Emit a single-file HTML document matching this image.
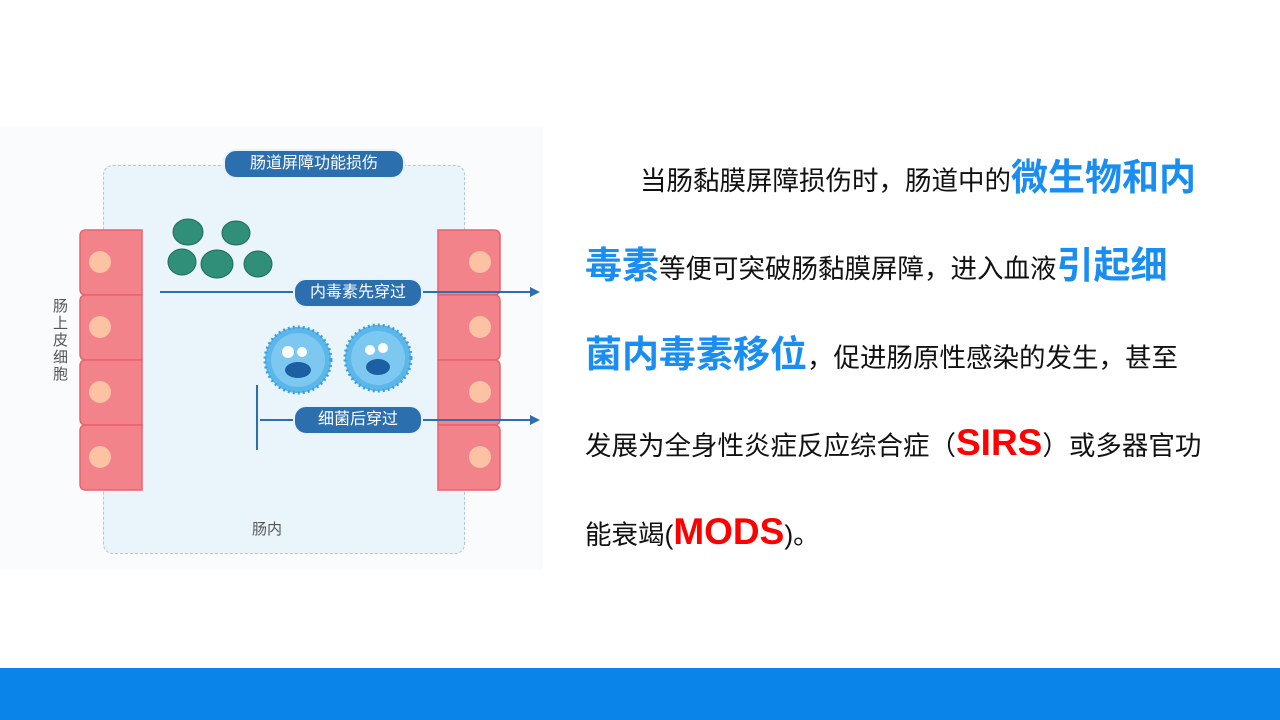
<!DOCTYPE html>
<html><head><meta charset="utf-8"><style>
body{margin:0;width:1280px;height:720px;position:relative;background:#fff;overflow:hidden;font-family:"Liberation Sans","Noto Sans CJK SC",sans-serif}
.l{position:absolute;left:585px;white-space:nowrap;font-size:26.5px;color:#111;line-height:40px}
.b{font-weight:bold;color:#1a8ef0;font-size:37px}
.r{font-weight:bold;color:#f00;font-size:37px}
.pill{position:absolute;background:#2c6fae;color:#fff;border-radius:13px;font-size:16px;text-align:center;line-height:26px;height:26px;border:2px solid #e8f2fa}
</style></head><body>
<div style="position:absolute;left:0;top:127px;width:543px;height:443px;background:#f9fbfc"></div>
<div style="position:absolute;left:103px;top:165px;width:360px;height:387px;border:1.5px dashed #b8c6d2;border-radius:10px;background:#eaf4fb"></div>
<svg style="position:absolute;left:0;top:0" width="560" height="600">
<defs><g id="cell"><path d="M0 6 Q0 0 6 0 H62 V65 H6 Q0 65 0 59 Z" fill="#f2838a" stroke="#e9636d" stroke-width="1.5"/><circle cx="20" cy="32" r="11" fill="#fbc2a4"/></g></defs>
<g transform="translate(80,230)"><use href="#cell"/><use href="#cell" y="65"/><use href="#cell" y="130"/><use href="#cell" y="195"/></g>
<g transform="translate(500,230) scale(-1,1)"><use href="#cell"/><use href="#cell" y="65"/><use href="#cell" y="130"/><use href="#cell" y="195"/></g>
<g fill="#2f8f78" stroke="#1e6b58"><ellipse cx="188" cy="232" rx="15" ry="13"/><ellipse cx="236" cy="233" rx="14" ry="12"/><ellipse cx="182" cy="262" rx="14" ry="13"/><ellipse cx="217" cy="264" rx="16" ry="14"/><ellipse cx="258" cy="264" rx="14" ry="13"/></g>
<g fill="#5bb6ea" stroke="#3aa0de" stroke-width="3" stroke-dasharray="2 3"><circle cx="298" cy="360" r="33"/><circle cx="378" cy="358" r="33"/></g>
<g fill="#7cc8f0"><circle cx="298" cy="360" r="27"/><circle cx="378" cy="358" r="27"/></g>
<g fill="#1d5fa3"><ellipse cx="298" cy="370" rx="13" ry="8"/><ellipse cx="378" cy="367" rx="12" ry="8"/></g>
<g fill="#fff"><circle cx="288" cy="352" r="6"/><circle cx="302" cy="352" r="5"/><circle cx="370" cy="350" r="5"/><circle cx="383" cy="348" r="5"/></g>
<g stroke="#2c6fae" stroke-width="2" fill="none"><line x1="160" y1="292" x2="530" y2="292"/><line x1="257" y1="385" x2="257" y2="450"/><line x1="260" y1="420" x2="530" y2="420"/></g>
<g fill="#2c6fae"><path d="M530 287 L540 292 L530 297Z"/><path d="M530 415 L540 420 L530 425Z"/></g>
</svg>
<div class="pill" style="left:223px;top:149px;width:178px">肠道屏障功能损伤</div>
<div class="pill" style="left:293px;top:278px;width:126px">内毒素先穿过</div>
<div class="pill" style="left:293px;top:405px;width:126px">细菌后穿过</div>
<div style="position:absolute;left:53px;top:298px;width:18px;font-size:15px;line-height:17px;color:#555">肠上皮细胞</div>
<div style="position:absolute;left:252px;top:518px;font-size:15px;color:#555">肠内</div>
<div class="l" style="left:640px;top:158px">当肠黏膜屏障损伤时，肠道中的<span class="b">微生物和内</span></div>
<div class="l" style="top:246px"><span class="b">毒素</span>等便可突破肠黏膜屏障，进入血液<span class="b">引起细</span></div>
<div class="l" style="top:335px"><span class="b">菌内毒素移位</span>，促进肠原性感染的发生，甚至</div>
<div class="l" style="top:423px">发展为全身性炎症反应综合症（<span class="r">SIRS</span>）或多器官功</div>
<div class="l" style="top:512px">能衰竭(<span class="r">MODS</span>)。</div>
<div style="position:absolute;left:0;top:668px;width:1280px;height:52px;background:#0a84e8"></div>
</body></html>
